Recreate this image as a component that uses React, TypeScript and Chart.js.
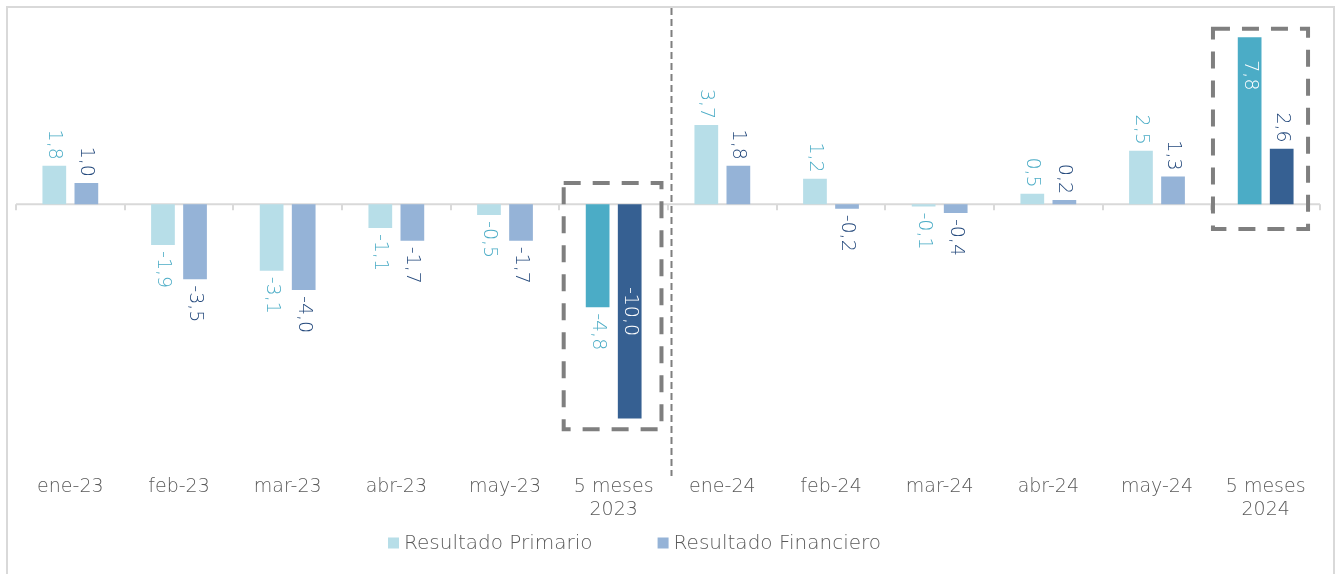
import React, { useEffect, useRef } from 'react';
import { Chart, registerables } from 'chart.js';

Chart.register(...registerables);

// ---- data ----
const categories: (string | string[])[] = [
  'ene-23', 'feb-23', 'mar-23', 'abr-23', 'may-23', ['5 meses', '2023'],
  'ene-24', 'feb-24', 'mar-24', 'abr-24', 'may-24', ['5 meses', '2024'],
];
const primario = [1.8, -1.9, -3.1, -1.1, -0.5, -4.8, 3.7, 1.2, -0.1, 0.5, 2.5, 7.8];
const financiero = [1.0, -3.5, -4.0, -1.7, -1.7, -10.0, 1.8, -0.2, -0.4, 0.2, 1.3, 2.6];
const seriesNames = ['Resultado Primario', 'Resultado Financiero'];
const highlightIndex = [5, 11];

// ---- styling / annotations ----
const FONT = '"DejaVu Sans", sans-serif';
const TEXT_COLOR = '#595959';
const normalColors = ['#B7DEE8', '#95B3D7'];
const highlightColors = ['#4BACC6', '#366092'];
const labelColors = ['#4BACC6', '#24497C'];
const insideLabels = [
  { ds: 0, i: 11, pos: 'top' },
  { ds: 1, i: 5, pos: 'center' },
];
const boxes = [
  { index: 5, top: 1.0, bottom: -10.5, left: -0.46, right: 0.44 },
  { index: 11, top: 8.2, bottom: -1.15, left: -0.485, right: 0.39 },
];

const fmt = (v: number) => v.toFixed(1).replace('.', ',');

const framePlugin = {
  id: 'frame',
  beforeDraw(chart: any) {
    const { ctx } = chart;
    ctx.save();
    ctx.strokeStyle = '#D9D9D9';
    ctx.lineWidth = 2;
    ctx.beginPath();
    ctx.moveTo(7, 600);
    ctx.lineTo(7, 7);
    ctx.lineTo(1334, 7);
    ctx.lineTo(1334, 600);
    ctx.stroke();
    ctx.restore();
  },
  beforeDatasetsDraw(chart: any) {
    const { ctx, chartArea } = chart;
    const y0 = chart.scales.y.getPixelForValue(0);
    const n = categories.length;
    const w = (chartArea.right - chartArea.left) / n;
    ctx.save();
    ctx.strokeStyle = '#D9D9D9';
    ctx.lineWidth = 2;
    ctx.beginPath();
    ctx.moveTo(chartArea.left, y0);
    ctx.lineTo(chartArea.right, y0);
    for (let i = 0; i <= n; i++) {
      const x = Math.round(chartArea.left + i * w);
      ctx.moveTo(x, y0);
      ctx.lineTo(x, y0 + 6);
    }
    ctx.stroke();
    ctx.restore();
  },
};

const labelPlugin = {
  id: 'valueLabels',
  afterDatasetsDraw(chart: any) {
    const { ctx } = chart;
    chart.data.datasets.forEach((ds: any, di: number) => {
      const meta = chart.getDatasetMeta(di);
      meta.data.forEach((bar: any, i: number) => {
        const v = ds.data[i] as number;
        const text = fmt(v);
        const { x, y, base } = bar.getProps(['x', 'y', 'base'], true);
        const inside = insideLabels.find((l) => l.ds === di && l.i === i);
        ctx.save();
        ctx.font = `300 19px ${FONT}`;
        ctx.textBaseline = 'middle';
        if (inside) {
          ctx.fillStyle = '#FFFFFF';
          if (inside.pos === 'center') {
            ctx.translate(x, (y + base) / 2);
            ctx.rotate(Math.PI / 2);
            ctx.textAlign = 'center';
          } else {
            ctx.translate(x, Math.min(y, base) + 23);
            ctx.rotate(Math.PI / 2);
            ctx.textAlign = 'left';
          }
        } else {
          ctx.fillStyle = labelColors[di];
          if (v >= 0) {
            ctx.translate(x, y - 6);
            ctx.rotate(Math.PI / 2);
            ctx.textAlign = 'right';
          } else {
            ctx.translate(x, y + 6);
            ctx.rotate(Math.PI / 2);
            ctx.textAlign = 'left';
          }
        }
        ctx.fillText(text, 0, 0);
        ctx.restore();
      });
    });
  },
  afterDraw(chart: any) {
    const { ctx, chartArea } = chart;
    const xs = chart.scales.x;
    const ys = chart.scales.y;
    const w = (chartArea.right - chartArea.left) / categories.length;
    // dashed highlight boxes
    ctx.save();
    ctx.strokeStyle = '#7F7F7F';
    ctx.lineWidth = 4;
    ctx.setLineDash([17, 12]);
    boxes.forEach((b) => {
      const cx = xs.getPixelForValue(b.index);
      const l = cx + b.left * w;
      const r = cx + b.right * w;
      const t = ys.getPixelForValue(b.top);
      const bt = ys.getPixelForValue(b.bottom);
      ctx.strokeRect(l, t, r - l, bt - t);
    });
    ctx.restore();
    // vertical divider between years
    const dx = (xs.getPixelForValue(5) + xs.getPixelForValue(6)) / 2 + 3.5;
    ctx.save();
    ctx.strokeStyle = '#7F7F7F';
    ctx.lineWidth = 2;
    ctx.setLineDash([7, 4]);
    ctx.beginPath();
    ctx.moveTo(dx, 8);
    ctx.lineTo(dx, 476);
    ctx.stroke();
    ctx.restore();
    // legend
    ctx.save();
    ctx.font = `300 20px ${FONT}`;
    ctx.textBaseline = 'middle';
    ctx.textAlign = 'left';
    const box = 11, gapText = 5, gapItem = 65;
    const widths = seriesNames.map((s) => ctx.measureText(s).width);
    const total = widths.reduce((a, b) => a + b, 0) + seriesNames.length * (box + gapText) + gapItem * (seriesNames.length - 1);
    let lx = (chartArea.left + chartArea.right) / 2 - 33.5 - total / 2;
    const ly = chart.height - 31;
    seriesNames.forEach((s, k) => {
      ctx.fillStyle = normalColors[k];
      ctx.fillRect(lx, ly - box / 2, box, box);
      ctx.fillStyle = TEXT_COLOR;
      ctx.fillText(s, lx + box + gapText, ly + 1);
      lx += box + gapText + widths[k] + gapItem;
    });
    ctx.restore();
  },
};

export default function App() {
  const ref = useRef<HTMLCanvasElement>(null);
  useEffect(() => {
    document.body.style.margin = '0';
    const colorsFor = (k: number) =>
      categories.map((_, i) => (highlightIndex.includes(i) ? highlightColors[k] : normalColors[k]));
    const chart = new Chart(ref.current as HTMLCanvasElement, {
      type: 'bar',
      data: {
        labels: categories as any,
        datasets: [
          {
            label: seriesNames[0],
            data: primario,
            backgroundColor: colorsFor(0),
            categoryPercentage: 0.59,
            barPercentage: 0.74,
          },
          {
            label: seriesNames[1],
            data: financiero,
            backgroundColor: colorsFor(1),
            categoryPercentage: 0.59,
            barPercentage: 0.74,
          },
        ],
      },
      options: {
        responsive: false,
        animation: false,
        layout: { padding: { left: 16, right: 16, top: 33, bottom: 39 } },
        plugins: {
          legend: { display: false },
          tooltip: { enabled: false },
        },
        scales: {
          x: {
            grid: { display: false, drawTicks: false },
            border: { display: false },
            ticks: {
              color: TEXT_COLOR,
              font: { family: FONT, size: 19, weight: '300' as any },
              padding: 14,
              maxRotation: 0,
              autoSkip: false,
            },
          },
          y: { display: false, min: -12, max: 8 },
        },
      },
      plugins: [framePlugin, labelPlugin],
    });
    return () => chart.destroy();
  }, []);
  return (
    <div style={{ width: 1336, height: 574, position: 'relative' }}>
      <canvas ref={ref} width={1336} height={574} style={{ display: 'block' }} />
    </div>
  );
}
